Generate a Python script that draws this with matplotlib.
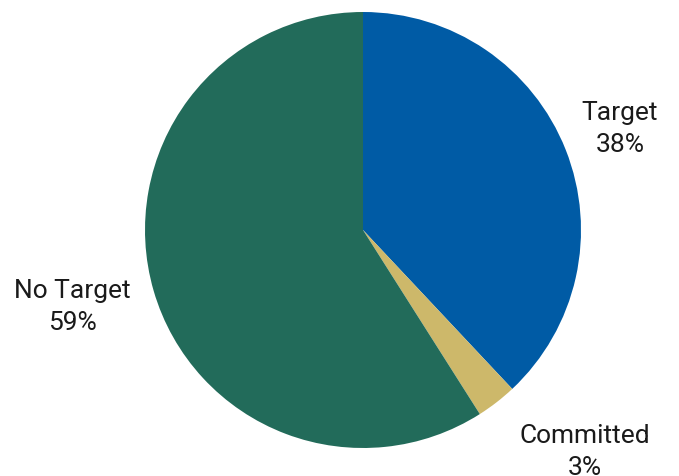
import matplotlib.pyplot as plt

# Share of companies by target status
labels = ['Target', 'Committed', 'No Target']
values = [38, 3, 59]
colors = ['#005ba5', '#cdb86a', '#226b5a']

plt.rcParams['font.family'] = ['Roboto', 'DejaVu Sans']

fig = plt.figure(figsize=(6.79, 4.76), dpi=100)
ax = fig.add_axes([0, 0, 1, 1])

# pie drawn in pixel-like data units so the layout matches the reference
ax.pie(values, colors=colors, startangle=90, counterclock=False,
       center=(363, 246), radius=218, wedgeprops={'linewidth': 0})

# labels (the reference crops the "3%" at the bottom edge as well)
label_pos = [(620, 347), (585, 24), (72, 169)]
for lab, val, (x, y) in zip(labels, values, label_pos):
    ax.text(x, y, f'{lab}\n{val}%', ha='center', va='center',
            fontsize=19, color='#1a1a1a', linespacing=1.45)

ax.set_xlim(0, 679)
ax.set_ylim(0, 476)
ax.set_aspect('equal')
ax.axis('off')

fig.savefig('out.png', dpi=100)
